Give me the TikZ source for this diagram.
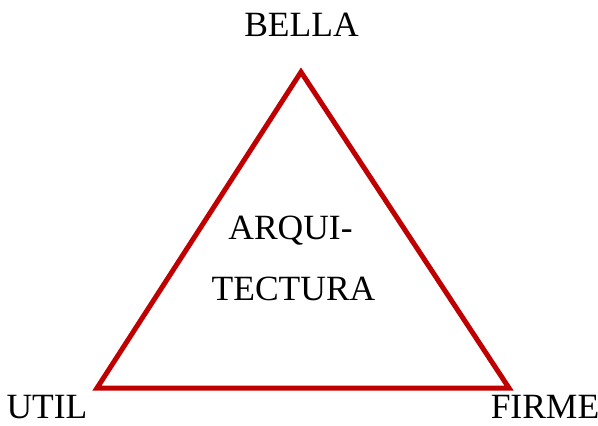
\documentclass[tikz,border=0pt]{standalone}
\usepackage{fontspec}
\setmainfont{Liberation Serif}
\definecolor{tri}{HTML}{C00000}
\begin{document}
\begin{tikzpicture}[x=1pt,y=-1pt,
  lbl/.style={inner sep=0pt,anchor=base,font=\fontsize{35.5}{40}\selectfont},
  edge/.style={draw=tri,line width=5pt,line join=miter}]
\useasboundingbox (0,0) rectangle (598,426);
\coordinate (top) at (301,72);
\coordinate (bl) at (97,388);
\coordinate (br) at (509,388);
\path[edge] (top) -- (br) -- (bl) -- cycle;
\node[lbl] (bella) at (301.5,36) {BELLA};
\node[lbl] (util) at (47,418) {UTIL};
\node[lbl] (firme) at (545,418) {FIRME};
\node[lbl] (arq) at (290.5,239) {ARQUI-};
\node[lbl] (tec) at (293.5,300) {TECTURA};
\end{tikzpicture}
\end{document}
